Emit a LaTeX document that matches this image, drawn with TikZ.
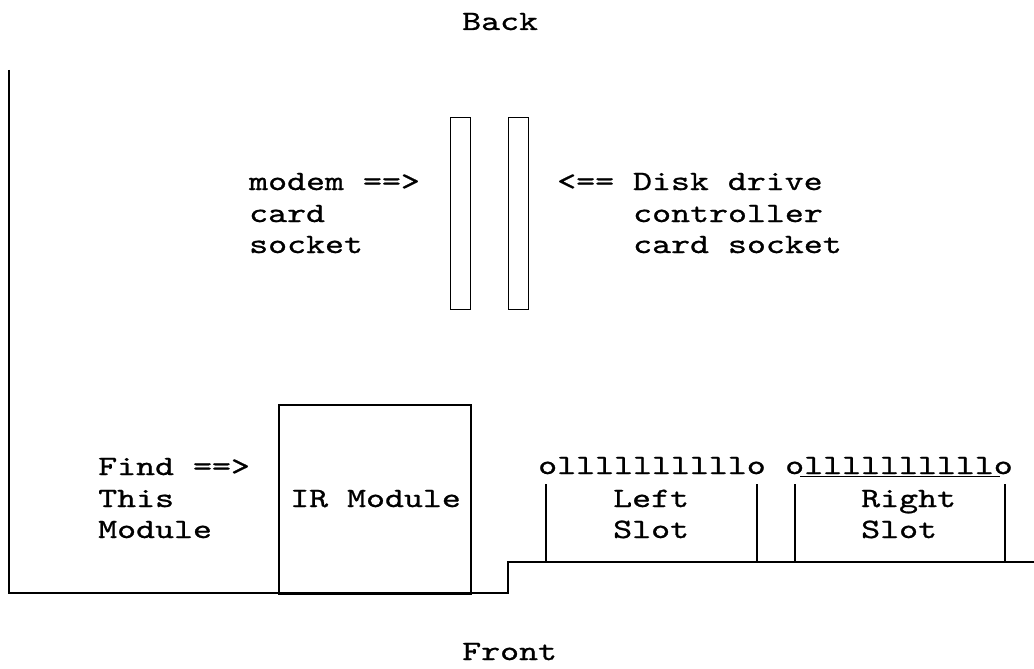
\documentclass[tikz,border=0pt]{standalone}
\usepackage{fontspec}
\newfontfamily\courfont{lmmono10-regular.otf}[FakeStretch=1.29,FakeBold=0.9]
\begin{document}
\begin{tikzpicture}[x=1pt,y=-1pt,
  lbl/.style={anchor=base west,inner sep=0pt,font=\courfont\fontsize{28}{31}\selectfont},
  outline/.style={line width=1.8pt},
  thin/.style={line width=1.4pt}]
\useasboundingbox (0,0) rectangle (1034,669);
% outline of the board
\coordinate (tl) at (9,70);
\coordinate (bl) at (9,593);
\coordinate (sb) at (508,593);
\coordinate (st) at (508,562);
\coordinate (br) at (1034,562);
\draw[outline] (tl) -- (bl) -- (sb) -- (st) -- (br);
% IR module
\node[draw,outline,minimum width=192pt,minimum height=189pt,inner sep=0pt,anchor=north west] (ir) at (278,404) {};
% sockets
\node[draw,thin,minimum width=20pt,minimum height=192pt,inner sep=0pt,anchor=north west] (s1) at (450,117) {};
\node[draw,thin,minimum width=20pt,minimum height=192pt,inner sep=0pt,anchor=north west] (s2) at (508,117) {};
% slot dividers
\foreach \x/\n in {546/a,757/b,795/c,1005/d}{
  \coordinate (\n t) at (\x,484);
  \coordinate (\n b) at (\x,562);
  \draw[thin] (\n t) -- (\n b);
}
% underline
\coordinate (u1) at (800,476);
\coordinate (u2) at (1000,476);
\draw[line width=1pt] (u1) -- (u2);
% texts
\node[lbl] (back) at (462,30) {Back};
\node[lbl] (m1) at (249,190) {modem ==>};
\node[lbl] (m2) at (249,222) {card};
\node[lbl] (m3) at (249,253) {socket};
\node[lbl] (d1) at (557,190) {<== Disk drive};
\node[lbl] (d2) at (633,222) {controller};
\node[lbl] (d3) at (633,253) {card socket};
\node[lbl] (f1) at (98,475) {Find ==>};
\node[lbl] (f2) at (98,507) {This};
\node[lbl] (f3) at (98,538) {Module};
\node[lbl] (irt) at (290,507) {IR Module};
\node[lbl] (o1) at (538,474) {ollllllllllo};
\node[lbl] (o2) at (785,474) {ollllllllllo};
\node[lbl] (l1) at (613,507) {Left};
\node[lbl] (l2) at (613,538) {Slot};
\node[lbl] (r1) at (861,507) {Right};
\node[lbl] (r2) at (861,538) {Slot};
\node[lbl] (front) at (462,660) {Front};
\end{tikzpicture}
\end{document}
